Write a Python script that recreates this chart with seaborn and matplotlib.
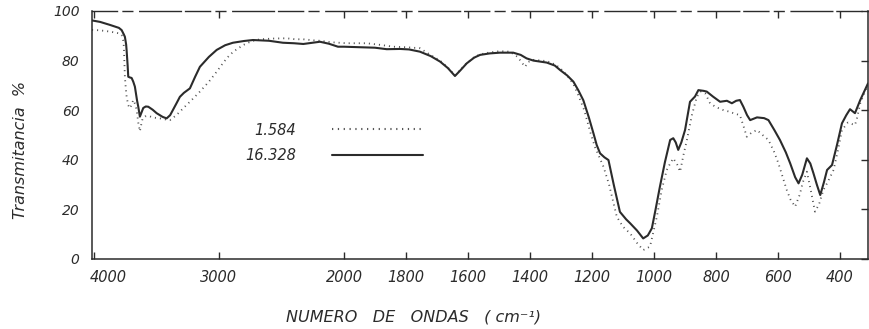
import numpy as np
import pandas as pd
import matplotlib
matplotlib.use("Agg")
import matplotlib.pyplot as plt
import matplotlib.transforms as mtransforms
import seaborn as sns

# IR transmittance spectra of two samples
series_labels = ["1.584", "16.328"]

wn_16328 = [4015, 3950, 3872, 3800, 3778, 3760, 3752, 3742, 3738, 3730, 3725, 3712,
            3698, 3685, 3672, 3655, 3645, 3632, 3620, 3605, 3585, 3565, 3530, 3498,
            3450, 3418, 3390, 3360, 3338, 3312, 3280, 3232, 3190, 3152, 3080, 3018,
            2950, 2888, 2800, 2728, 2600, 2488, 2400, 2325, 2250, 2192, 2120, 2048,
            2000, 1948, 1900, 1862, 1819, 1790, 1755, 1720, 1690, 1665, 1642, 1625,
            1604, 1580, 1561, 1530, 1497, 1454, 1430, 1411, 1389, 1346, 1320, 1303,
            1280, 1260, 1244, 1228, 1210, 1195, 1185, 1174, 1160, 1147, 1130, 1110,
            1090, 1077, 1055, 1035, 1020, 1007, 995, 981, 965, 948, 938, 930,
            922, 912, 900, 884, 868, 857, 840, 830, 810, 787, 765, 749,
            735, 723, 712, 700, 690, 668, 645, 631, 612, 594, 575, 561,
            545, 534, 522, 507, 496, 486, 475, 464, 452, 442, 426, 410,
            394, 380, 368, 352, 335, 310]
t_16328 = [96.2, 95.6, 94.4, 93.2, 92.3, 90.5, 89.6, 86.5, 84.0, 78.0, 73.5, 73.2,
           73.0, 71.5, 69.5, 64.0, 61.4, 57.4, 59.0, 60.9, 61.5, 61.4, 60.2, 58.8,
           57.3, 56.7, 58.0, 60.8, 62.9, 65.4, 67.0, 68.8, 73.5, 77.5, 81.5, 84.3,
           86.2, 87.2, 87.9, 88.3, 88.0, 87.2, 87.0, 86.7, 87.2, 87.6, 86.8, 85.6,
           85.6, 85.4, 85.2, 84.6, 84.7, 84.5, 83.6, 81.8, 79.6, 77.0, 73.8, 76.0,
           78.9, 81.2, 82.3, 82.9, 83.2, 83.2, 82.3, 80.9, 80.0, 79.2, 78.0, 76.2,
           74.0, 71.5, 68.0, 64.0, 57.0, 50.5, 46.0, 42.6, 41.0, 39.9, 30.0, 19.0,
           16.0, 14.4, 11.5, 8.3, 9.5, 12.4, 20.0, 29.2, 39.0, 48.0, 48.7, 47.0,
           44.0, 47.0, 52.0, 63.4, 65.5, 68.1, 67.8, 67.5, 65.5, 63.4, 63.8, 62.8,
           63.8, 64.1, 61.4, 58.0, 56.0, 57.1, 56.8, 56.0, 52.0, 48.0, 43.0, 38.6,
           33.0, 30.5, 34.0, 40.6, 38.5, 34.6, 30.0, 25.8, 31.0, 35.9, 37.9, 46.0,
           54.7, 58.0, 60.4, 58.8, 64.1, 70.8]

wn_1584 = [4015, 3950, 3872, 3800, 3778, 3765, 3760, 3752, 3745, 3738, 3725, 3712,
           3700, 3685, 3670, 3658, 3645, 3632, 3620, 3610, 3590, 3565, 3520, 3472,
           3430, 3392, 3340, 3285, 3220, 3152, 3080, 3018, 2960, 2925, 2885, 2805,
           2740, 2672, 2560, 2458, 2390, 2325, 2250, 2192, 2100, 1991, 1927, 1880,
           1841, 1800, 1755, 1720, 1690, 1665, 1642, 1625, 1604, 1580, 1561, 1530,
           1497, 1465, 1440, 1425, 1416, 1405, 1389, 1346, 1320, 1303, 1280, 1260,
           1244, 1225, 1206, 1190, 1163, 1145, 1120, 1100, 1077, 1055, 1035, 1013,
           991, 975, 959, 948, 938, 925, 916, 905, 894, 878, 862, 850,
           835, 820, 803, 776, 760, 744, 723, 710, 701, 685, 668, 650,
           631, 612, 599, 585, 572, 560, 545, 530, 520, 507, 495, 481,
           468, 454, 440, 421, 405, 394, 375, 352, 345, 335, 310]
t_1584 = [92.4, 92.2, 91.7, 91.0, 90.3, 88.0, 85.6, 73.5, 69.0, 65.4, 62.0, 60.8,
          62.0, 64.1, 62.5, 60.1, 55.0, 51.5, 54.5, 56.7, 57.5, 57.7, 57.0, 56.7,
          56.3, 56.0, 58.0, 60.8, 64.0, 67.5, 71.5, 75.5, 79.5, 81.6, 83.6, 86.3,
          87.8, 88.6, 88.9, 89.0, 88.6, 88.6, 88.2, 88.0, 87.4, 87.0, 87.0, 86.3,
          85.6, 85.4, 85.0, 82.2, 80.0, 77.2, 74.0, 76.3, 79.0, 81.4, 82.5, 83.3,
          83.8, 83.6, 81.5, 79.0, 77.5, 79.5, 80.3, 79.8, 78.5, 77.0, 74.0, 70.5,
          66.0, 60.0, 51.3, 45.0, 37.2, 30.0, 17.0, 13.0, 10.3, 6.5, 3.6, 5.0,
          17.0, 28.0, 35.9, 38.5, 40.6, 38.0, 35.2, 42.0, 48.0, 58.0, 65.4, 67.5,
          66.8, 63.0, 61.4, 60.0, 59.5, 58.8, 58.0, 53.0, 49.3, 51.0, 52.0, 50.0,
          48.0, 43.0, 38.6, 33.0, 27.8, 24.0, 21.1, 26.0, 31.0, 35.2, 28.0, 19.1,
          22.0, 27.8, 31.0, 35.9, 45.0, 52.0, 55.0, 54.0, 57.0, 62.8, 70.5]

x_ticks = [4000, 3000, 2000, 1800, 1600, 1400, 1200, 1000, 800, 600, 400]
y_ticks = [0, 20, 40, 60, 80, 100]

df = pd.concat([
    pd.DataFrame({"wn": wn_1584, "T": t_1584, "muestra": series_labels[0]}),
    pd.DataFrame({"wn": wn_16328, "T": t_16328, "muestra": series_labels[1]}),
], ignore_index=True)

sns.set_style("white")
plt.rcParams["font.family"] = ["DejaVu Sans"]

fig = plt.figure(figsize=(8.69, 3.29), dpi=100)
ax = fig.add_axes([92 / 869, 1 - 259 / 329, 776 / 869, 248 / 329])

# Grating spectrometer abscissa: scale changes at 2000 cm-1
def fwd(x):
    x = np.asarray(x, dtype=float)
    return np.where(x <= 2000, x * 0.31, 620 + (x - 2000) * 0.125)

def inv(u):
    u = np.asarray(u, dtype=float)
    return np.where(u <= 620, u / 0.31, 2000 + (u - 620) / 0.125)

ax.set_xscale("function", functions=(fwd, inv))

ink = "#2b2b2b"
sns.lineplot(data=df, x="wn", y="T", hue="muestra", style="muestra",
             palette={series_labels[0]: "#555555", series_labels[1]: ink},
             dashes={series_labels[0]: (0.6, 2.2), series_labels[1]: ""},
             sort=False, estimator=None, ax=ax)
lines = ax.get_lines()
lines[0].set_linewidth(1.3)
lines[1].set_linewidth(1.5)

ax.set_xlim(4015, 310)
ax.set_ylim(0, 100)
ax.set_xticks(x_ticks)
ax.set_xticklabels([str(v) for v in x_ticks])
ax.set_yticks(y_ticks)
ax.set_yticklabels([str(v) for v in y_ticks])
ax.minorticks_off()

ax.tick_params(axis="x", which="major", direction="in", top=True, bottom=True,
               length=5, width=1, color=ink, pad=8, labelsize=10.5, labelcolor=ink)
ax.tick_params(axis="y", which="major", direction="in", left=False, right=True,
               length=5, width=1, color=ink, pad=9, labelsize=10, labelcolor=ink)
for lab in ax.get_xticklabels() + ax.get_yticklabels():
    lab.set_fontstyle("italic")

# nudge the first abscissa label off the corner
first = ax.get_xticklabels()[0]
first.set_transform(first.get_transform() +
                    mtransforms.ScaledTranslation(14 / 100, 0, fig.dpi_scale_trans))

for side in ["left", "right", "bottom", "top"]:
    ax.spines[side].set_visible(True)
    ax.spines[side].set_color(ink)
    ax.spines[side].set_linewidth(1.1)
ax.spines["top"].set_linestyle((0, (18, 4, 7, 5, 30, 3)))
ax.spines["top"].set_linewidth(1.0)

ax.set_xlabel("NUMERO   DE   ONDAS   ( cm⁻¹)", fontsize=11.5, fontstyle="italic",
              color=ink)
ax.xaxis.set_label_coords((413 - 92) / 776, -0.205)
ax.set_ylabel("Transmitancia  %", fontsize=11.5, fontstyle="italic", color=ink)
ax.yaxis.set_label_coords(-0.083, 0.44)

handles, labels = ax.get_legend_handles_labels()
leg = ax.legend(handles, labels, loc="upper left", bbox_to_anchor=(0.197, 0.55),
                frameon=False, markerfirst=False, handlelength=6.2,
                handletextpad=2.5, labelspacing=0.7, borderpad=0, borderaxespad=0,
                prop={"size": 10.5, "style": "italic"})
for t in leg.get_texts():
    t.set_color(ink)

fig.savefig("out.png", dpi=100, facecolor="white")
